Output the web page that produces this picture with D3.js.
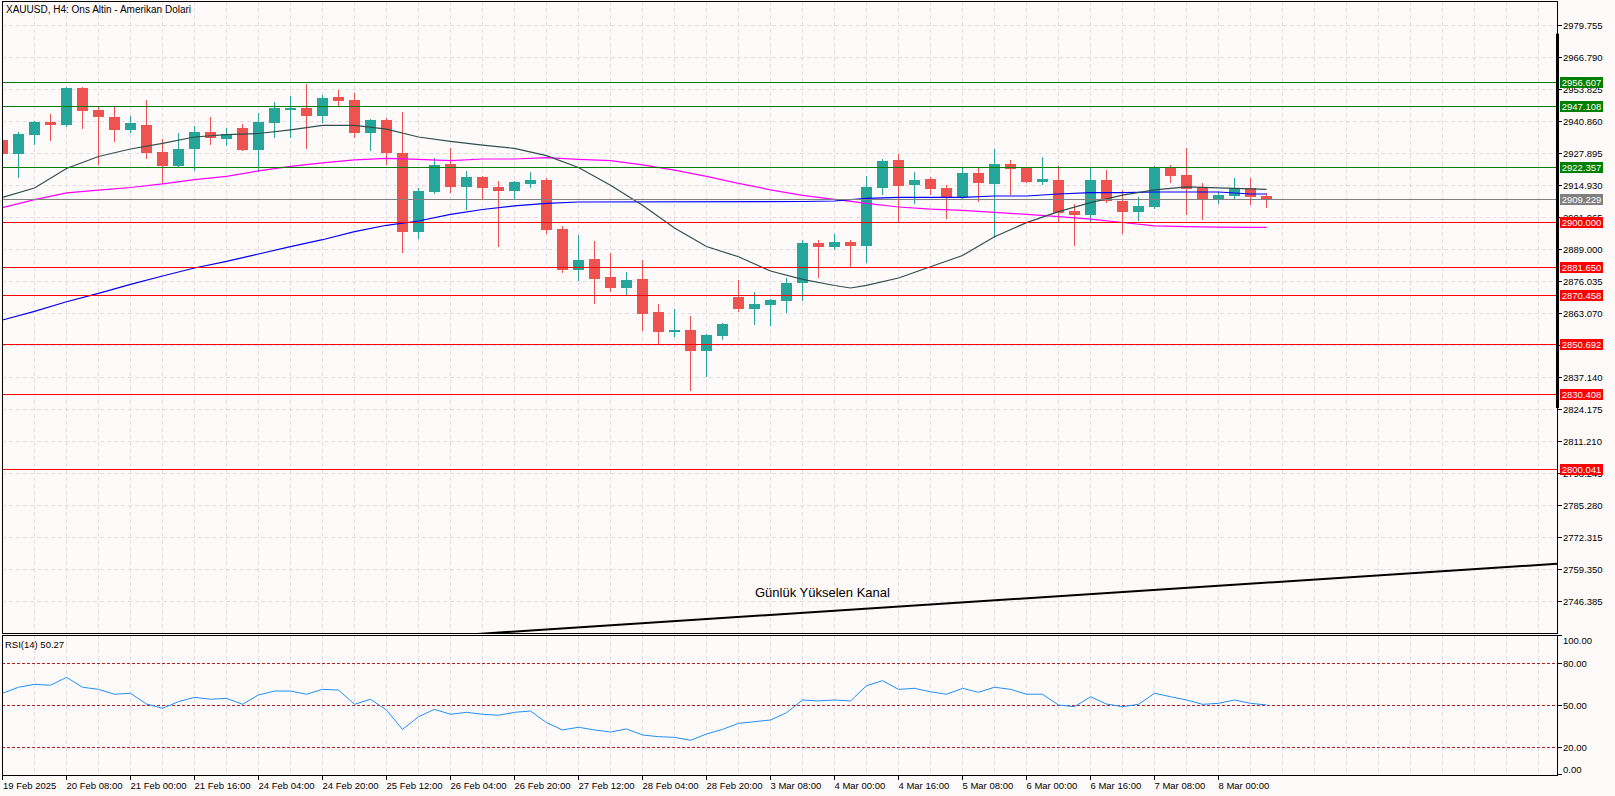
<!DOCTYPE html>
<html><head><meta charset="utf-8">
<script src="https://cdn.jsdelivr.net/npm/d3@7/dist/d3.min.js"></script>
<style>
html,body{margin:0;padding:0;background:#FFFAFA;overflow:hidden;}
svg{display:block;}
text{font-family:"Liberation Sans",Arial,sans-serif;}
</style></head><body>
<svg id="c" width="1615" height="796"></svg>
<script>
// ---------- DATA ----------
const title = "XAUUSD, H4:  Ons Altin - Amerikan Dolari";
const opens  = [2933.19,2927.64,2935.33,2940.48,2939.26,2954.24,2945.33,2942.50,2937.36,2939.26,
                2928.20,2922.78,2929.54,2936.42,2933.71,2938.04,2929.26,2940.07,2945.33,2946.14,
                2942.90,2950.60,2949.38,2936.14,2941.28,2927.92,2896.05,2912.25,2923.47,2914.27,
                2918.20,2914.15,2912.66,2915.49,2916.99,2897.15,2880.55,2885.12,2877.83,2873.38,
                2876.90,2863.54,2855.44,2856.24,2847.74,2853.82,2869.61,2864.75,2866.37,2867.99,
                2875.28,2891.48,2889.86,2891.76,2890.26,2913.75,2925.09,2915.09,2917.39,2913.75,
                2910.10,2919.82,2915.49,2923.47,2921.97,2916.30,2916.99,2904.56,2902.94,2916.99,
                2908.60,2904.15,2906.17,2922.25,2919.01,2914.15,2909.17,2910.63,2913.75,2910.50];
const highs  = [2935.50,2936.42,2940.88,2943.71,2954.65,2954.50,2946.95,2946.95,2942.90,2949.50,
                2933.59,2936.02,2938.86,2942.50,2938.04,2939.67,2944.12,2948.57,2951.00,2955.86,
                2951.41,2953.43,2952.10,2941.80,2942.09,2944.52,2913.62,2926.02,2930.07,2920.75,
                2918.61,2916.58,2916.45,2920.35,2917.80,2898.36,2894.72,2892.28,2887.43,2879.73,
                2884.71,2866.90,2864.75,2861.92,2854.63,2859.20,2876.49,2871.64,2868.60,2877.30,
                2892.69,2892.69,2895.12,2892.69,2918.61,2925.49,2927.52,2920.23,2918.20,2914.96,
                2922.25,2922.25,2929.54,2925.09,2922.10,2926.30,2922.66,2907.39,2922.25,2921.04,
                2912.94,2910.10,2922.66,2923.06,2929.95,2915.90,2912.25,2917.80,2917.80,2911.72];
const lows   = [2925.80,2918.33,2931.57,2933.31,2938.86,2938.04,2923.47,2932.90,2936.55,2926.02,
                2916.30,2922.50,2921.16,2931.57,2931.28,2929.00,2920.63,2934.52,2934.52,2930.07,
                2940.48,2947.24,2934.52,2929.26,2923.67,2887.96,2893.38,2911.85,2912.25,2905.37,
                2909.40,2890.38,2909.82,2914.27,2895.65,2879.86,2876.49,2867.30,2872.04,2870.30,
                2856.24,2850.86,2853.82,2831.95,2837.62,2852.60,2863.94,2858.68,2858.27,2863.54,
                2868.40,2877.83,2889.17,2881.88,2883.90,2911.44,2899.98,2907.80,2911.32,2901.60,
                2909.29,2908.48,2893.91,2911.32,2916.10,2915.49,2900.50,2890.79,2900.10,2908.20,
                2895.65,2900.79,2905.77,2916.30,2903.34,2901.32,2907.80,2909.58,2907.39,2906.05];
const closes = [2927.64,2935.49,2940.48,2939.26,2954.37,2945.05,2942.50,2937.36,2940.07,2928.04,
                2922.78,2929.54,2936.42,2934.12,2935.49,2929.26,2940.48,2946.14,2946.14,2942.90,
                2950.20,2949.10,2936.14,2941.28,2927.72,2896.05,2912.53,2923.06,2914.27,2918.20,
                2913.87,2912.66,2916.18,2916.99,2896.86,2880.55,2884.60,2876.90,2873.38,2876.49,
                2862.73,2855.44,2856.24,2847.74,2854.22,2858.68,2864.75,2866.78,2868.40,2875.28,
                2891.48,2889.86,2891.76,2890.26,2914.15,2924.68,2914.56,2916.99,2913.34,2910.10,
                2919.82,2915.90,2923.47,2921.56,2916.30,2917.39,2903.75,2902.82,2916.99,2908.60,
                2904.15,2906.58,2922.25,2918.73,2913.46,2909.17,2910.91,2913.75,2910.23,2909.23];

const darkBars = [0,2,4,6,8,10,12,14,16,18,20,22,24,26,28,30,32,34,36,38,40,42,44,46,48,50,52,53,54,56,58,60,62,64,66,68,70,72,74,76,79];
const darkMA   = [2909.98,2913.75,2921.65,2926.51,2929.54,2931.85,2934.40,2935.37,2935.82,2937.32,2939.10,2939.14,2937.56,2934.40,2932.62,2931.08,2929.78,2926.83,2922.05,2914.84,2906.74,2897.55,2890.06,2885.89,2880.14,2876.74,2874.27,2873.26,2874.35,2877.31,2881.88,2886.42,2894.03,2899.74,2904.19,2907.84,2910.84,2912.98,2914.24,2913.83,2913.22];
const blueBars = [0,2,4,6,8,10,12,14,16,18,20,22,24,26,28,30,32,34,36,50,52,54,56,60,62,64,66,68,70,72,76,78,79];
const blueMA   = [2860.30,2863.78,2867.67,2871.10,2874.75,2878.12,2881.36,2884.07,2887.02,2890.02,2892.81,2896.05,2898.65,2900.39,2903.06,2905.04,2906.50,2907.55,2908.08,2908.28,2908.49,2909.58,2909.98,2909.98,2910.51,2910.51,2911.32,2911.85,2911.85,2912.13,2912.13,2911.32,2911.32];
const magBars  = [0,2,4,6,8,10,12,14,16,18,20,22,24,26,28,30,32,34,36,38,40,42,44,46,48,50,52,54,56,58,60,62,64,66,68,70,72,74,76,78,79];
const magMA    = [2905.77,2909.01,2911.80,2912.90,2913.95,2915.45,2917.11,2918.45,2920.67,2922.54,2923.95,2925.17,2925.78,2925.37,2924.80,2925.49,2925.49,2926.02,2925.37,2924.80,2923.14,2921.00,2918.45,2915.65,2913.02,2910.79,2909.17,2907.51,2906.06,2905.20,2904.68,2903.91,2903.06,2902.17,2901.16,2899.78,2898.44,2898.08,2897.88,2897.83,2897.83];

const rsiValues = [58.6,62.9,65.0,64.3,70.0,62.9,61.4,57.9,58.6,50.9,
                   47.9,52.6,55.7,54.3,55.0,50.7,57.4,60.2,60.2,57.9,
                   61.4,60.9,50.7,54.3,46.6,32.8,41.9,47.1,43.6,45.0,
                   43.6,42.9,45.0,45.9,37.6,32.4,34.3,32.4,30.9,33.1,
                   28.8,27.6,27.1,25.0,29.5,32.8,37.1,38.3,39.5,44.7,
                   53.8,53.1,53.8,53.1,64.0,67.6,61.4,62.1,59.7,57.9,
                   62.1,59.3,62.9,61.4,57.9,57.9,50.2,49.0,56.1,50.9,
                   49.0,50.7,58.6,56.1,53.8,50.7,51.4,53.8,51.4,50.27];
const rsiLabel = "RSI(14) 50.27";
const rsiLevels = [80, 50, 20];
const rsiTickLabels = ["100.00","80.00","50.00","20.00","0.00"];

const greenLevels = [2956.607, 2947.108, 2922.357];
const redLevels = [2900.000, 2881.650, 2870.458, 2850.692, 2830.408, 2800.041];
const bidPrice = 2909.229;
const rangeBar = [2976.23, 2824.66];

const trendBars = [40, 100];
const trendPrices = [2737.49, 2762.75];
const trendText = "Günlük Yükselen Kanal";
const trendTextAt = {bar: 47, price: 2748.3};

const yTickLabels = ["2979.755","2966.790","2953.825","2940.860","2927.895","2914.930","2901.965","2889.000",
                     "2876.035","2863.070","2850.105","2837.140","2824.175","2811.210","2798.245","2785.280",
                     "2772.315","2759.350","2746.385"];
const xLabelBars = [0,4,8,12,16,20,24,28,32,36,40,44,48,52,56,60,64,68,72,76];
const xLabels = ["19 Feb 2025","20 Feb 08:00","21 Feb 00:00","21 Feb 16:00","24 Feb 04:00","24 Feb 20:00",
                 "25 Feb 12:00","26 Feb 04:00","26 Feb 20:00","27 Feb 12:00","28 Feb 04:00","28 Feb 20:00",
                 "3 Mar 08:00","4 Mar 00:00","4 Mar 16:00","5 Mar 08:00","6 Mar 00:00","6 Mar 16:00",
                 "7 Mar 08:00","8 Mar 00:00"];

// ---------- LAYOUT ----------
const W = 1615, H = 796;
const L = 2, R = 1557, T = 1, MB = 633, RT = 635, RB = 775;
const BG = "#FFFAFA", UP = "#26A69A", DN = "#EF5350", GRID = "#e2dde2";
const FS = 9.5;

const svg = d3.select("#c");
svg.append("rect").attr("width", W).attr("height", H).attr("fill", BG);

const x = d3.scaleLinear().domain([0, 97]).range([2.5, 2.5 + 16 * 97]);
const y = d3.scaleLinear().domain([2979.755, 2746.385]).range([25, 601.3]);
const yr = d3.scaleLinear().domain([0, 100]).range([775.3, 635.3]);
const px = v => Math.round(v) + 0.5;

const defs = svg.append("defs");
defs.append("clipPath").attr("id", "cm").append("rect").attr("x", L).attr("y", T).attr("width", R - L).attr("height", MB - T);
defs.append("clipPath").attr("id", "cr").append("rect").attr("x", L).attr("y", RT).attr("width", R - L).attr("height", RB - RT);

const gm = svg.append("g").attr("clip-path", "url(#cm)");
const gr = svg.append("g").attr("clip-path", "url(#cr)");

// grid
const yTicks = yTickLabels.map(Number);
const gridBars = d3.range(2, 97, 2);
gm.selectAll(".vg").data(gridBars).join("line")
  .attr("x1", d => x(d)).attr("x2", d => x(d)).attr("y1", T).attr("y2", MB)
  .attr("stroke", GRID).attr("stroke-dasharray", "4,3");
gm.selectAll(".hg").data(yTicks).join("line")
  .attr("x1", L).attr("x2", R).attr("y1", d => px(y(d))).attr("y2", d => px(y(d)))
  .attr("stroke", GRID).attr("stroke-dasharray", "4,3");
gr.selectAll(".vg").data(gridBars).join("line")
  .attr("x1", d => x(d)).attr("x2", d => x(d)).attr("y1", RT).attr("y2", RB)
  .attr("stroke", GRID).attr("stroke-dasharray", "4,3");

// candles
const bars = opens.map((o, i) => ({i, o, h: highs[i], l: lows[i], c: closes[i]}));
const cg = gm.append("g");
cg.selectAll(".w").data(bars).join("line")
  .attr("x1", d => x(d.i)).attr("x2", d => x(d.i))
  .attr("y1", d => Math.round(y(d.h))).attr("y2", d => Math.round(y(d.l)) + 1)
  .attr("stroke", d => d.c >= d.o ? UP : DN).attr("stroke-width", 1);
cg.selectAll(".b").data(bars).join("rect")
  .attr("x", d => x(d.i) - 5.5).attr("width", 11)
  .attr("y", d => Math.round(y(Math.max(d.o, d.c))))
  .attr("height", d => Math.max(1, Math.round(y(Math.min(d.o, d.c))) - Math.round(y(Math.max(d.o, d.c)))))
  .attr("fill", d => d.c >= d.o ? UP : DN);

// moving averages
function maPath(barsArr, vals, color) {
  const pts = barsArr.map((b, k) => [x(b), y(vals[k])]);
  gm.append("path").attr("d", d3.line()(pts)).attr("fill", "none")
    .attr("stroke", color).attr("stroke-width", 1.2);
}
maPath(magBars, magMA, "#FF00FF");
maPath(blueBars, blueMA, "#0000FF");
maPath(darkBars, darkMA, "#2F4F4F");

// horizontal levels
const levels = [
  ...greenLevels.map(p => ({p, col: "#008000"})),
  ...redLevels.map(p => ({p, col: "#FF0000"})),
  {p: bidPrice, col: "#808080"}
];
gm.selectAll(".lv").data(levels).join("line")
  .attr("x1", L).attr("x2", R).attr("y1", d => px(y(d.p))).attr("y2", d => px(y(d.p)))
  .attr("stroke", d => d.col).attr("stroke-width", 1);

// trend line (ray)
const tx = trendBars.map(x), ty = trendPrices.map(y);
const slope = (ty[1] - ty[0]) / (tx[1] - tx[0]);
gm.append("line").attr("x1", 0).attr("y1", ty[0] + slope * (0 - tx[0]))
  .attr("x2", R).attr("y2", ty[0] + slope * (R - tx[0]))
  .attr("stroke", "#000").attr("stroke-width", 2);
svg.append("text").attr("x", x(trendTextAt.bar) + 0.5).attr("y", y(trendTextAt.price))
  .attr("font-size", 13).attr("fill", "#000").text(trendText);

// RSI
gr.selectAll(".rl").data(rsiLevels).join("line")
  .attr("x1", L).attr("x2", R).attr("y1", d => px(yr(d))).attr("y2", d => px(yr(d)))
  .attr("stroke", "#B22222").attr("stroke-dasharray", "3,2");
gr.append("path").attr("d", d3.line()(rsiValues.map((v, i) => [x(i), yr(v)])))
  .attr("fill", "none").attr("stroke", "#1E90FF").attr("stroke-width", 1);

// frames
svg.append("rect").attr("x", L + 0.5).attr("y", T + 0.5).attr("width", R - L).attr("height", MB - T)
  .attr("fill", "none").attr("stroke", "#000");
svg.append("rect").attr("x", L + 0.5).attr("y", RT + 0.5).attr("width", R - L).attr("height", RB - RT)
  .attr("fill", "none").attr("stroke", "#000");
svg.append("rect").attr("x", R - 1).attr("y", y(rangeBar[0])).attr("width", 3)
  .attr("height", y(rangeBar[1]) - y(rangeBar[0])).attr("fill", "#000");

// titles
svg.append("text").attr("x", 6).attr("y", 12.5).attr("font-size", 10).attr("fill", "#000").text(title);
svg.append("text").attr("x", 5).attr("y", 647.5).attr("font-size", FS).attr("fill", "#000").text(rsiLabel);

// right price axis
const ax = svg.append("g");
ax.selectAll(".tk").data(yTicks).join("line")
  .attr("x1", R).attr("x2", R + 5).attr("y1", d => px(y(d))).attr("y2", d => px(y(d))).attr("stroke", "#000");
ax.selectAll(".tl").data(yTickLabels).join("text")
  .attr("x", R + 6).attr("y", d => y(+d) + 3.5).attr("font-size", FS).attr("fill", "#000").text(d => d);
const lab = ax.selectAll(".lb").data(levels).join("g");
lab.append("rect").attr("x", R + 3).attr("width", 43).attr("y", d => Math.round(y(d.p)) - 5).attr("height", 11)
  .attr("fill", d => d.col);
lab.append("text").attr("x", R + 24.5).attr("y", d => Math.round(y(d.p)) + 3.8).attr("text-anchor", "middle")
  .attr("font-size", FS).attr("fill", "#fff").text(d => d.p.toFixed(3));

// RSI axis
const rsiTickVals = rsiTickLabels.map(Number);
ax.selectAll(".rt").data(rsiTickVals).join("line")
  .attr("x1", R).attr("x2", R + 5).attr("y1", d => px(Math.min(RB - 1, Math.max(RT, yr(d))))).attr("y2", d => px(Math.min(RB - 1, Math.max(RT, yr(d))))).attr("stroke", "#000");
ax.selectAll(".rtl").data(rsiTickLabels).join("text")
  .attr("x", R + 6).attr("y", d => { const v = +d; const yy = yr(v); return (v === 100 ? yy + 4.7 : v === 0 ? yy - 6 : yy) + 3.5; })
  .attr("font-size", FS).attr("fill", "#000").text(d => d);

// bottom time axis
ax.selectAll(".xt").data(xLabelBars).join("line")
  .attr("x1", d => d === 0 ? L + 0.5 : x(d)).attr("x2", d => d === 0 ? L + 0.5 : x(d))
  .attr("y1", RB).attr("y2", RB + 5).attr("stroke", "#000");
ax.selectAll(".xl").data(xLabelBars).join("text")
  .attr("x", d => d === 0 ? L + 1 : x(d)).attr("y", 788.5)
  .attr("font-size", FS).attr("fill", "#000").text((d, k) => xLabels[k]);
</script>
</body></html>
